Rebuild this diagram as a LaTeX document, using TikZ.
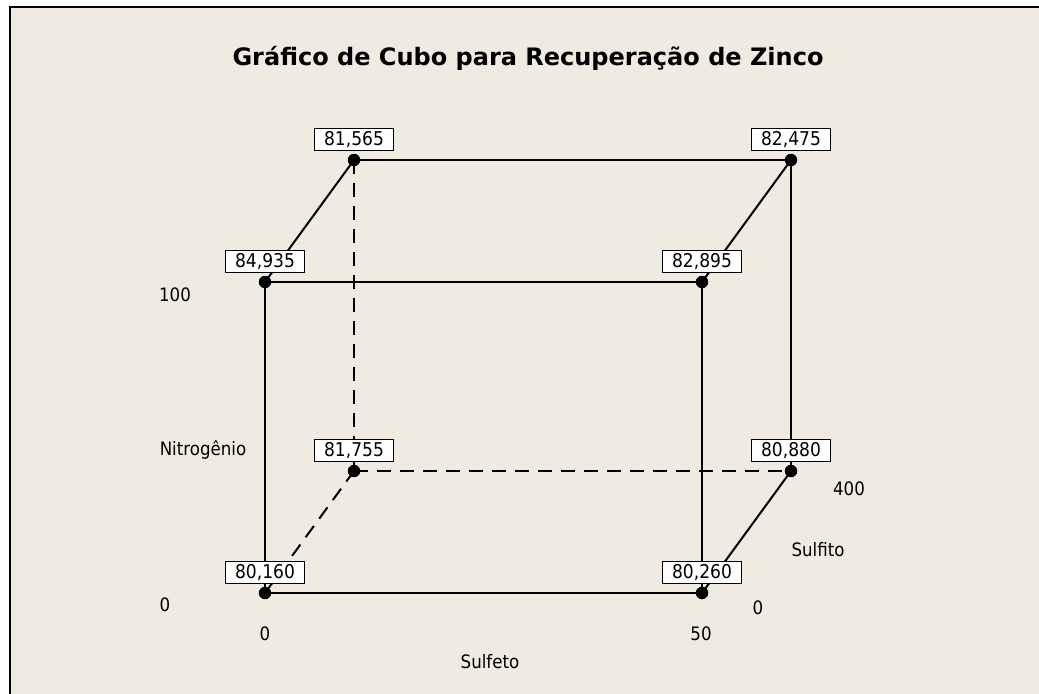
\documentclass[tikz,border=0pt]{standalone}
\usepackage{fontspec}
\setmainfont{DejaVu Sans}
\newfontfamily\narrowsans[FakeStretch=0.9]{DejaVu Sans}
\definecolor{bg}{RGB}{239,235,225}
\begin{document}
\begin{tikzpicture}[x=1bp,y=-1bp,
  dot/.style={circle,fill=black,inner sep=0pt,minimum size=12bp},
  val/.style={draw=black,line width=1.4bp,fill=white,inner sep=0pt,minimum width=79bp,minimum height=22bp,font=\narrowsans\fontsize{19bp}{21bp}\selectfont},
  edge/.style={line width=2bp},
  hidden/.style={line width=2bp,dash pattern=on 14bp off 9bp},
  lbl/.style={font=\narrowsans\fontsize{18.5bp}{21bp}\selectfont,inner sep=0pt},
  ttl/.style={font=\bfseries\fontsize{24bp}{28bp}\selectfont,inner sep=0pt}]
\useasboundingbox (0,0) rectangle (1039,694);
\fill[white] (0,0) rectangle (1039,694);
\fill[bg] (10,7) rectangle (1039,694);
\draw[line width=2bp] (10,694) -- (10,7) -- (1039,7);
\node[ttl] (title) at (528,58) {Gráfico de Cubo para Recuperação de Zinco};
% cube corners
\node[dot] (fbl) at (265,593) {};
\node[dot] (fbr) at (702,593) {};
\node[dot] (ftl) at (265,282) {};
\node[dot] (ftr) at (702,282) {};
\node[dot] (bbl) at (354,471) {};
\node[dot] (bbr) at (791,471) {};
\node[dot] (btl) at (354,160) {};
\node[dot] (btr) at (791,160) {};
% edges
\draw[hidden] (btl.center) -- (bbl.center);
\draw[hidden] (bbl.center) -- (bbr.center);
\draw[hidden] (fbl.center) -- (bbl.center);
\draw[edge] (fbl.center) -- (fbr.center);
\draw[edge] (fbl.center) -- (ftl.center);
\draw[edge] (ftl.center) -- (ftr.center);
\draw[edge] (fbr.center) -- (ftr.center);
\draw[edge] (ftl.center) -- (btl.center);
\draw[edge] (btl.center) -- (btr.center);
\draw[edge] (ftr.center) -- (btr.center);
\draw[edge] (btr.center) -- (bbr.center);
\draw[edge] (fbr.center) -- (bbr.center);
% redraw dots on top
\foreach \n in {fbl,fbr,ftl,ftr,bbl,bbr,btl,btr} \fill (\n) circle (6.2bp);
% value labels
\node[val] (vfbl) at (265,572.5) {80,160};
\node[val] (vfbr) at (702,572.5) {80,260};
\node[val] (vftl) at (265,261.5) {84,935};
\node[val] (vftr) at (702,261.5) {82,895};
\node[val] (vbbl) at (354,450.5) {81,755};
\node[val] (vbbr) at (791,450.5) {80,880};
\node[val] (vbtl) at (354,139.5) {81,565};
\node[val] (vbtr) at (791,139.5) {82,475};
% axis labels
\node[lbl] (n100) at (175,295) {100};
\node[lbl] (nitro) at (203,450) {Nitrogênio};
\node[lbl] (n0) at (165,605) {0};
\node[lbl] (s0) at (265,634) {0};
\node[lbl] (s50) at (701,634) {50};
\node[lbl] (sulfeto) at (490,662) {Sulfeto};
\node[lbl] (f0) at (758,608) {0};
\node[lbl] (f400) at (849,489) {400};
\node[lbl] (sulfito) at (818,550) {Sulfito};
\end{tikzpicture}
\end{document}
